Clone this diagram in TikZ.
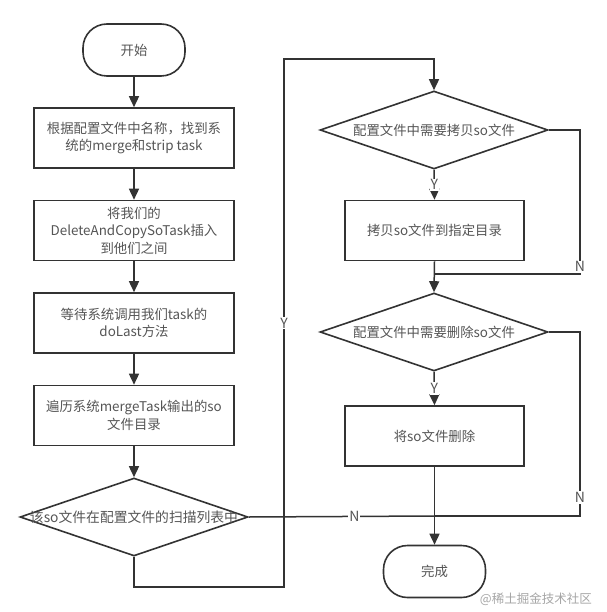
\documentclass[tikz,border=0pt]{standalone}
\usepackage{fontspec}
\setmainfont{Noto Sans CJK SC}
\usetikzlibrary{shapes.geometric,arrows.meta}
\definecolor{lc}{HTML}{333333}
\definecolor{tc}{HTML}{555555}
\tikzset{
  base/.style={draw=lc, line width=1.6pt, text=tc, font=\fontsize{13.4}{17.5}\selectfont, align=center, inner sep=0pt},
  box/.style={base, rectangle, minimum width=200pt, minimum height=60pt},
  sbox/.style={base, rectangle, minimum width=179pt, minimum height=60pt},
  term/.style={base, rectangle, rounded corners=24pt, minimum width=102pt, minimum height=52pt},
  dia/.style={base, diamond, minimum width=228pt, minimum height=78pt},
  arr/.style={draw=lc, line width=1.5pt, -{Triangle[length=11pt,width=10pt]}},
  ln/.style={draw=lc, line width=1.5pt},
  lbl/.style={text=tc, font=\fontsize{14}{16}\selectfont, fill=white, inner sep=1pt}
}
\begin{document}
\begin{tikzpicture}[x=1pt,y=-1pt]
\useasboundingbox (0,0) rectangle (606,612);
\fill[white] (0,0) rectangle (606,612);
% left column
\node[term] (start) at (134,50) {开始};
\node[box] (b1) at (134,138) {根据配置文件中名称，找到系\\统的merge和strip task};
\node[box] (b2) at (134,230.5) {将我们的\\DeleteAndCopySoTask插入\\到他们之间};
\node[box] (b3) at (134,323) {等待系统调用我们task的\\doLast方法};
\node[box] (b4) at (134,415.5) {遍历系统mergeTask输出的so\\文件目录};
\node[dia, label={center:{\textcolor{tc}{\fontsize{13.8}{17.5}\selectfont 该so文件在配置文件的扫描列表中}}}] (d1) at (134,517) {};
% right column
\node[dia, label={center:{\textcolor{tc}{\fontsize{13.4}{17.5}\selectfont 配置文件中需要拷贝so文件}}}] (d2) at (434,130) {};
\node[sbox] (b5) at (434.5,230.5) {拷贝so文件到指定目录};
\node[dia, label={center:{\textcolor{tc}{\fontsize{13.4}{17.5}\selectfont 配置文件中需要删除so文件}}}] (d3) at (434,332) {};
\node[sbox] (b6) at (434.5,436) {将so文件删除};
\node[term] (end) at (434.5,571.5) {完成};
% helper coordinates
\coordinate (c1) at (284,587);
\coordinate (c2) at (284,59);
\coordinate (k1) at (580,130);
\coordinate (j1) at (434,274);
\coordinate (k2) at (580,332);
\coordinate (j2) at (434,516);
% connectors
\draw[arr] (start) -- (b1);
\draw[arr] (b1) -- (b2);
\draw[arr] (b2) -- (b3);
\draw[arr] (b3) -- (b4);
\draw[arr] (b4) -- (d1);
\draw[arr] (d1.south) |- (c1) -- node[lbl, pos=0.5] {Y} (c2) -| (d2.north);
\draw[arr] (d2.south) -- node[lbl, pos=0.5] {Y} (b5.north);
\draw[ln] (d2.east) -- (k1) -- node[lbl, pos=0.95] {N} (k1 |- j1) -- (j1);
\draw[arr] (b5.south) -- (d3.north);
\draw[arr] (d3.south) -- node[lbl, pos=0.5] {Y} (b6.north);
\draw[ln] (d3.east) -- (k2) -- node[lbl, pos=0.9] {N} (k2 |- j2) -- (j2);
\draw[ln] (d1.east) -- node[lbl, pos=0.57] {N} (j2);
\draw[arr] (b6.south) -- (end.north);
% watermark
\node[text=gray!70, font=\fontsize{12.5}{14}\selectfont, anchor=east, inner sep=0pt] (wm) at (592,599) {@稀土掘金技术社区};
\end{tikzpicture}
\end{document}
